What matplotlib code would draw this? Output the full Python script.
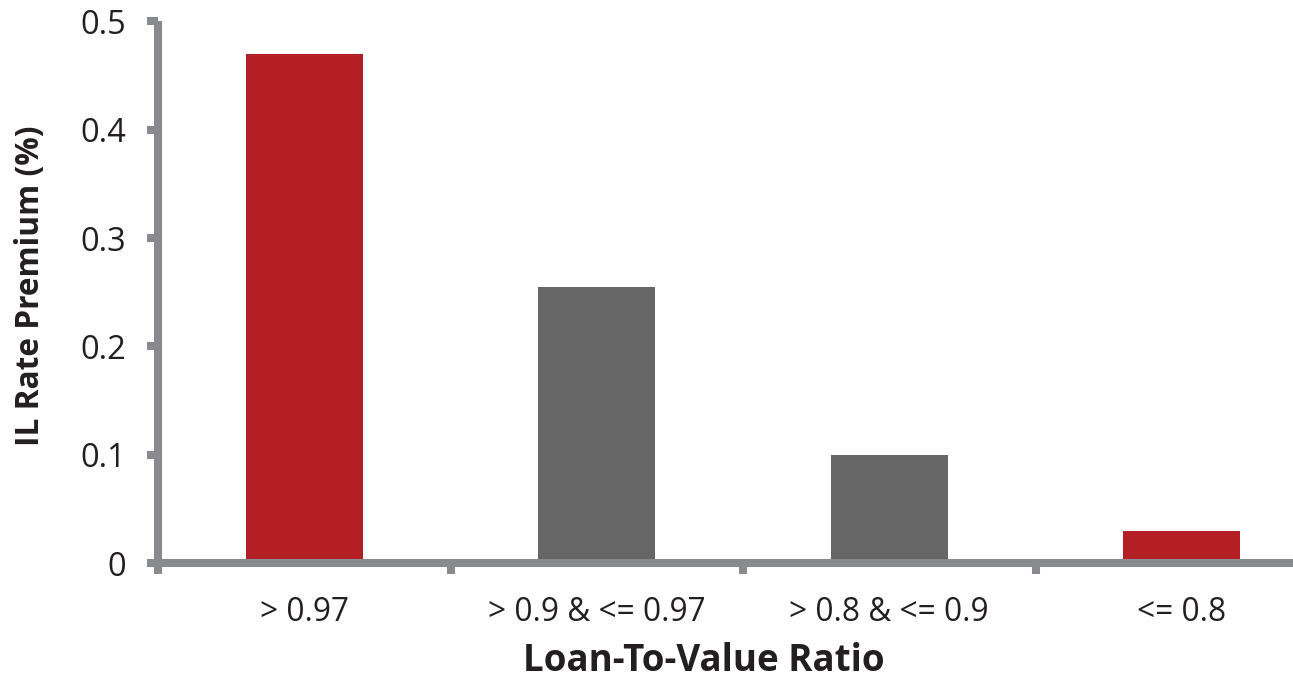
import matplotlib
matplotlib.use("Agg")
import matplotlib.pyplot as plt
import numpy as np

# Data
categories = ["> 0.97", "> 0.9 & <= 0.97", "> 0.8 & <= 0.9", "<= 0.8"]
premium = [0.47, 0.255, 0.10, 0.03]
bar_colors = ["#b31f25", "#666667", "#666667", "#b31f25"]
y_ticks = [0, 0.1, 0.2, 0.3, 0.4, 0.5]
y_tick_labels = ["0", "0.1", "0.2", "0.3", "0.4", "0.5"]

plt.rcParams["font.family"] = ["Open Sans", "DejaVu Sans"]
text_color = "#231f20"
axis_color = "#898a8e"

W, H = 1293, 679
fig = plt.figure(figsize=(W / 100, H / 100), dpi=100)
ax = fig.add_axes([158 / W, (H - 563) / H, 1170 / W, 541.5 / H])

x = np.arange(len(categories))
ax.bar(x, premium, width=0.40, color=bar_colors, zorder=1)

ax.set_xlim(-0.5, len(categories) - 0.5)
ax.set_ylim(0, 0.5)

for side in ("top", "right"):
    ax.spines[side].set_visible(False)
for side in ("left", "bottom"):
    ax.spines[side].set_color(axis_color)
    ax.spines[side].set_linewidth(5.8)
    ax.spines[side].set_capstyle("butt")

# category boundaries carry the x ticks; labels sit at category centres
ax.set_xticks(np.arange(-0.5, len(categories), 1.0))
ax.set_xticklabels([])
ax.set_xticks(x, minor=True)
ax.set_xticklabels(categories, minor=True, fontsize=22.8, color=text_color)
ax.tick_params(axis="x", which="major", direction="out", length=8, width=5.8,
               color=axis_color)
ax.tick_params(axis="x", which="minor", length=0, pad=24)

ax.set_yticks(y_ticks)
ax.set_yticklabels(y_tick_labels, fontsize=23.5, color=text_color)
ax.tick_params(axis="y", direction="out", length=8, width=5.8,
               color=axis_color, pad=15)

ax.set_xlabel("Loan-To-Value Ratio", fontsize=26.5, fontweight="bold",
              color=text_color, labelpad=9)
ax.xaxis.label.set_x((704 - 158) / 1170)
ax.set_ylabel("IL Rate Premium (%)", fontsize=22.8, fontweight="bold",
              color=text_color, labelpad=24)
ax.yaxis.label.set_y((563 - 286) / 541.5)

fig.savefig("out.png", dpi=100)
